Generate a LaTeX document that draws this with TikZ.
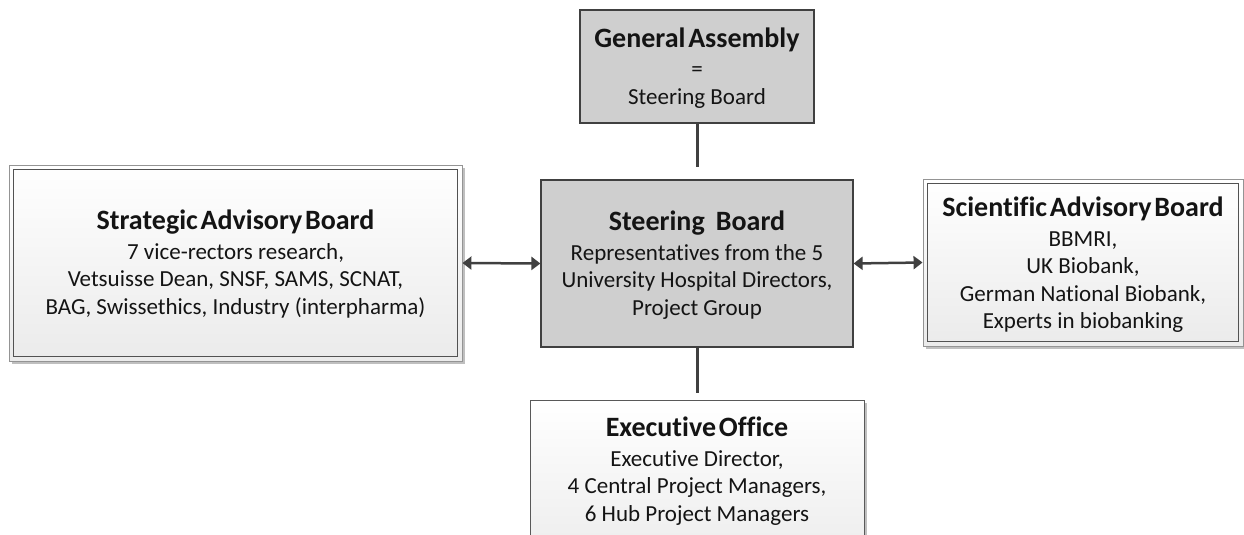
\documentclass[tikz,border=0pt]{standalone}
\usepackage{fontspec}
\setmainfont{Carlito}[Ligatures=NoCommon]
\usetikzlibrary{arrows.meta,shadows}
\definecolor{edge}{HTML}{404040}
\definecolor{boxgray}{HTML}{CFCFCF}
\newcommand\ttlfont{\bfseries\fontsize{28}{30}\selectfont}
\begin{document}
\begin{tikzpicture}[x=1pt,y=-1pt,
  shadebox/.style={top color=white, bottom color=black!8,
    drop shadow={shadow xshift=3pt,shadow yshift=-3pt,fill=black!25,opacity=1},
    inner sep=0pt},
  sidebox/.style={shadebox, draw=black!42, line width=0.9pt,
    path picture={\draw[black!68, line width=0.9pt]
      ([shift={(4.5pt,-4.5pt)}]path picture bounding box.north west) rectangle
      ([shift={(-4.5pt,4.5pt)}]path picture bounding box.south east);},
    outer sep=0.45pt},
  plainbox/.style={shadebox, draw=black!65, line width=1pt, outer sep=0.5pt},
  graybox/.style={draw=edge, line width=1.2pt, fill=boxgray, inner sep=0pt},
  txt/.style={align=center, font=\fontsize{23}{27.5}\selectfont, inner sep=0pt, text=black!92},
  link/.style={draw=edge, line width=3pt},
  biarrow/.style={draw=edge, line width=2.5pt,
    {Triangle[length=9pt,width=13pt]}-{Triangle[length=9pt,width=13pt]}}]
\useasboundingbox (0,0) rectangle (1244,535);

% boxes
\node[graybox, minimum width=234pt, minimum height=113pt] (ga) at (697,66.5) {};
\node[graybox, minimum width=312pt, minimum height=167pt] (sb) at (697,263.5) {};
\node[sidebox, minimum width=453pt, minimum height=196pt] (sab) at (235.5,263) {};
\node[sidebox, minimum width=320pt, minimum height=167pt] (scab) at (1083,262.5) {};
\node[plainbox, minimum width=334pt, minimum height=174pt] (eo) at (697,487) {};

% texts
\node[txt] (gat) at (697,68) {{\ttlfont General\hspace{0.1em}Assembly}\\[2pt]=\\Steering Board};
\node[txt] (sbt) at (697,265) {{\ttlfont Steering\hspace{0.4em}Board}\\[2pt]Representatives from the 5\\University Hospital Directors,\\Project Group};
\node[txt] (sabt) at (235.5,264) {{\ttlfont Strategic\hspace{0.1em}Advisory\hspace{0.1em}Board}\\[2pt]7 vice-rectors research,\\Vetsuisse Dean, SNSF, SAMS, SCNAT,\\BAG, Swissethics, Industry (interpharma)};
\node[txt] (scabt) at (1083,265) {{\ttlfont Scientific\hspace{0.1em}Advisory\hspace{0.1em}Board}\\[2pt]BBMRI,\\UK Biobank,\\German National Biobank,\\Experts in biobanking};
\node[txt] (eot) at (697,471) {{\ttlfont Executive\hspace{0.1em}Office}\\[2pt]Executive Director,\\4 Central Project Managers,\\6 Hub Project Managers};

% connectors
\draw[link, shorten >=12pt] (ga.south) -- (sb.north);
\draw[link, shorten >=7pt] (sb.south) -- (eo.north);
\draw[biarrow] (sab.east) -- (sb.west);
\draw[biarrow] (sb.east) -- (scab.west);
\end{tikzpicture}
\end{document}
